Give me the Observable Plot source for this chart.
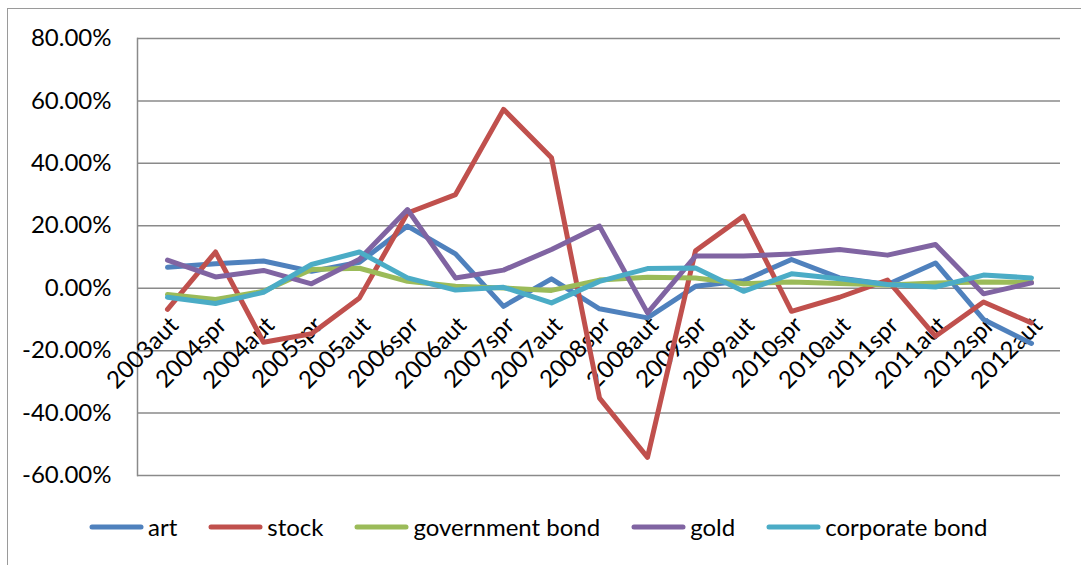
<!DOCTYPE html>
<html>
<head>
<meta charset="utf-8">
<script src="https://cdn.jsdelivr.net/npm/d3@7"></script>
<script src="https://cdn.jsdelivr.net/npm/@observablehq/plot@0.6"></script>
<style>
  html, body { margin: 0; padding: 0; background: #fff; width: 1081px; height: 565px; overflow: hidden; }
  #frame { position: absolute; left: 7px; top: 8px; width: 1100px; height: 600px; border: 1.5px solid #9a9a9a; box-sizing: border-box; }
  #chart { position: absolute; left: 0; top: 0; }
  #legend { position: absolute; left: 89px; top: 512px; display: flex; align-items: center; font-family: Lato, sans-serif; font-size: 24px; color: #000; }
  .item { display: flex; align-items: center; margin-right: 31px; }
  .item svg { margin-right: 4px; }
</style>
</head>
<body>
<div id="frame"></div>
<div id="chart"></div>
<div id="legend"></div>
<script>
const categories = ["2003aut","2004spr","2004aut","2005spr","2005aut","2006spr","2006aut","2007spr","2007aut","2008spr","2008aut","2009spr","2009aut","2010spr","2010aut","2011spr","2011aut","2012spr","2012aut"];
const seriesNames = ["art", "stock", "government bond", "gold", "corporate bond"];
const seriesColors = ["#4F81BD", "#C0504D", "#9BBB59", "#8064A2", "#4BACC6"];
// values in percent
const art  = [6.7, 7.8, 8.7, 5.4, 8.3, 19.9, 11.0, -5.8, 3.0, -6.6, -9.5, 0.6, 2.4, 9.2, 3.3, 1.2, 8.1, -10.0, -17.7];
const stock = [-6.8, 11.6, -17.3, -14.6, -3.1, 24.1, 30.0, 57.3, 41.8, -35.2, -54.2, 12.0, 23.1, -7.4, -2.9, 2.6, -15.4, -4.4, -11.1];
const governmentBond = [-2.0, -3.6, -1.0, 6.0, 6.4, 2.2, 0.6, 0.1, -0.7, 2.6, 3.5, 3.3, 1.4, 2.0, 1.5, 1.0, 1.7, 2.0, 1.9];
const gold = [9.0, 3.6, 5.7, 1.4, 9.3, 25.2, 3.3, 5.8, 12.4, 19.9, -7.9, 10.3, 10.3, 11.0, 12.4, 10.6, 14.0, -1.8, 1.7];
const corporateBond = [-2.9, -4.9, -1.3, 7.6, 11.6, 3.3, -0.6, 0.3, -4.7, 2.2, 6.3, 6.5, -1.0, 4.6, 3.0, 1.2, 0.4, 4.2, 3.3];
const yTicks = [-0.6, -0.4, -0.2, 0, 0.2, 0.4, 0.6, 0.8];

const seriesValues = [art, stock, governmentBond, gold, corporateBond];
const rows = [];
seriesNames.forEach((name, i) => {
  seriesValues[i].forEach((v, j) => rows.push({series: name, cat: categories[j], value: v / 100}));
});
const zeroRows = categories.map(c => ({cat: c, value: 0}));

const chart = Plot.plot({
  width: 1081,
  height: 500,
  marginLeft: 137,
  marginRight: 21,
  marginTop: 38,
  marginBottom: 25,
  style: {fontFamily: "Lato, sans-serif", fontSize: "24px", color: "#000", background: "transparent"},
  x: {type: "point", domain: categories, padding: 0.5, axis: null},
  y: {domain: [-0.6, 0.8], ticks: yTicks, axis: null},
  color: {domain: seriesNames, range: seriesColors},
  marks: [
    Plot.ruleY(yTicks, {stroke: "#8a8a8a", strokeWidth: 1.5}),
    Plot.frame({anchor: "left", stroke: "#8a8a8a", strokeWidth: 1.5}),
    Plot.axisY(yTicks, {tickSize: 0, tickPadding: 26, label: null, tickFormat: d => (d * 100).toFixed(2) + "%", fill: "#000"}),
    Plot.text(zeroRows, {x: "cat", y: "value", text: "cat", rotate: -45, textAnchor: "end", lineAnchor: "middle", dx: 7, dy: 33, fill: "#000"}),
    Plot.line(rows, {x: "cat", y: "value", z: "series", stroke: "series", strokeWidth: 5, strokeLinejoin: "round", strokeLinecap: "round"})
  ]
});
document.getElementById("chart").appendChild(chart);

const legend = document.getElementById("legend");
seriesNames.forEach((name, i) => {
  const item = document.createElement("div");
  item.className = "item";
  item.innerHTML = `<svg width="55" height="10"><line x1="3" y1="5" x2="52" y2="5" stroke="${seriesColors[i]}" stroke-width="5" stroke-linecap="round"/></svg><span>${name}</span>`;
  legend.appendChild(item);
});
</script>
</body>
</html>
